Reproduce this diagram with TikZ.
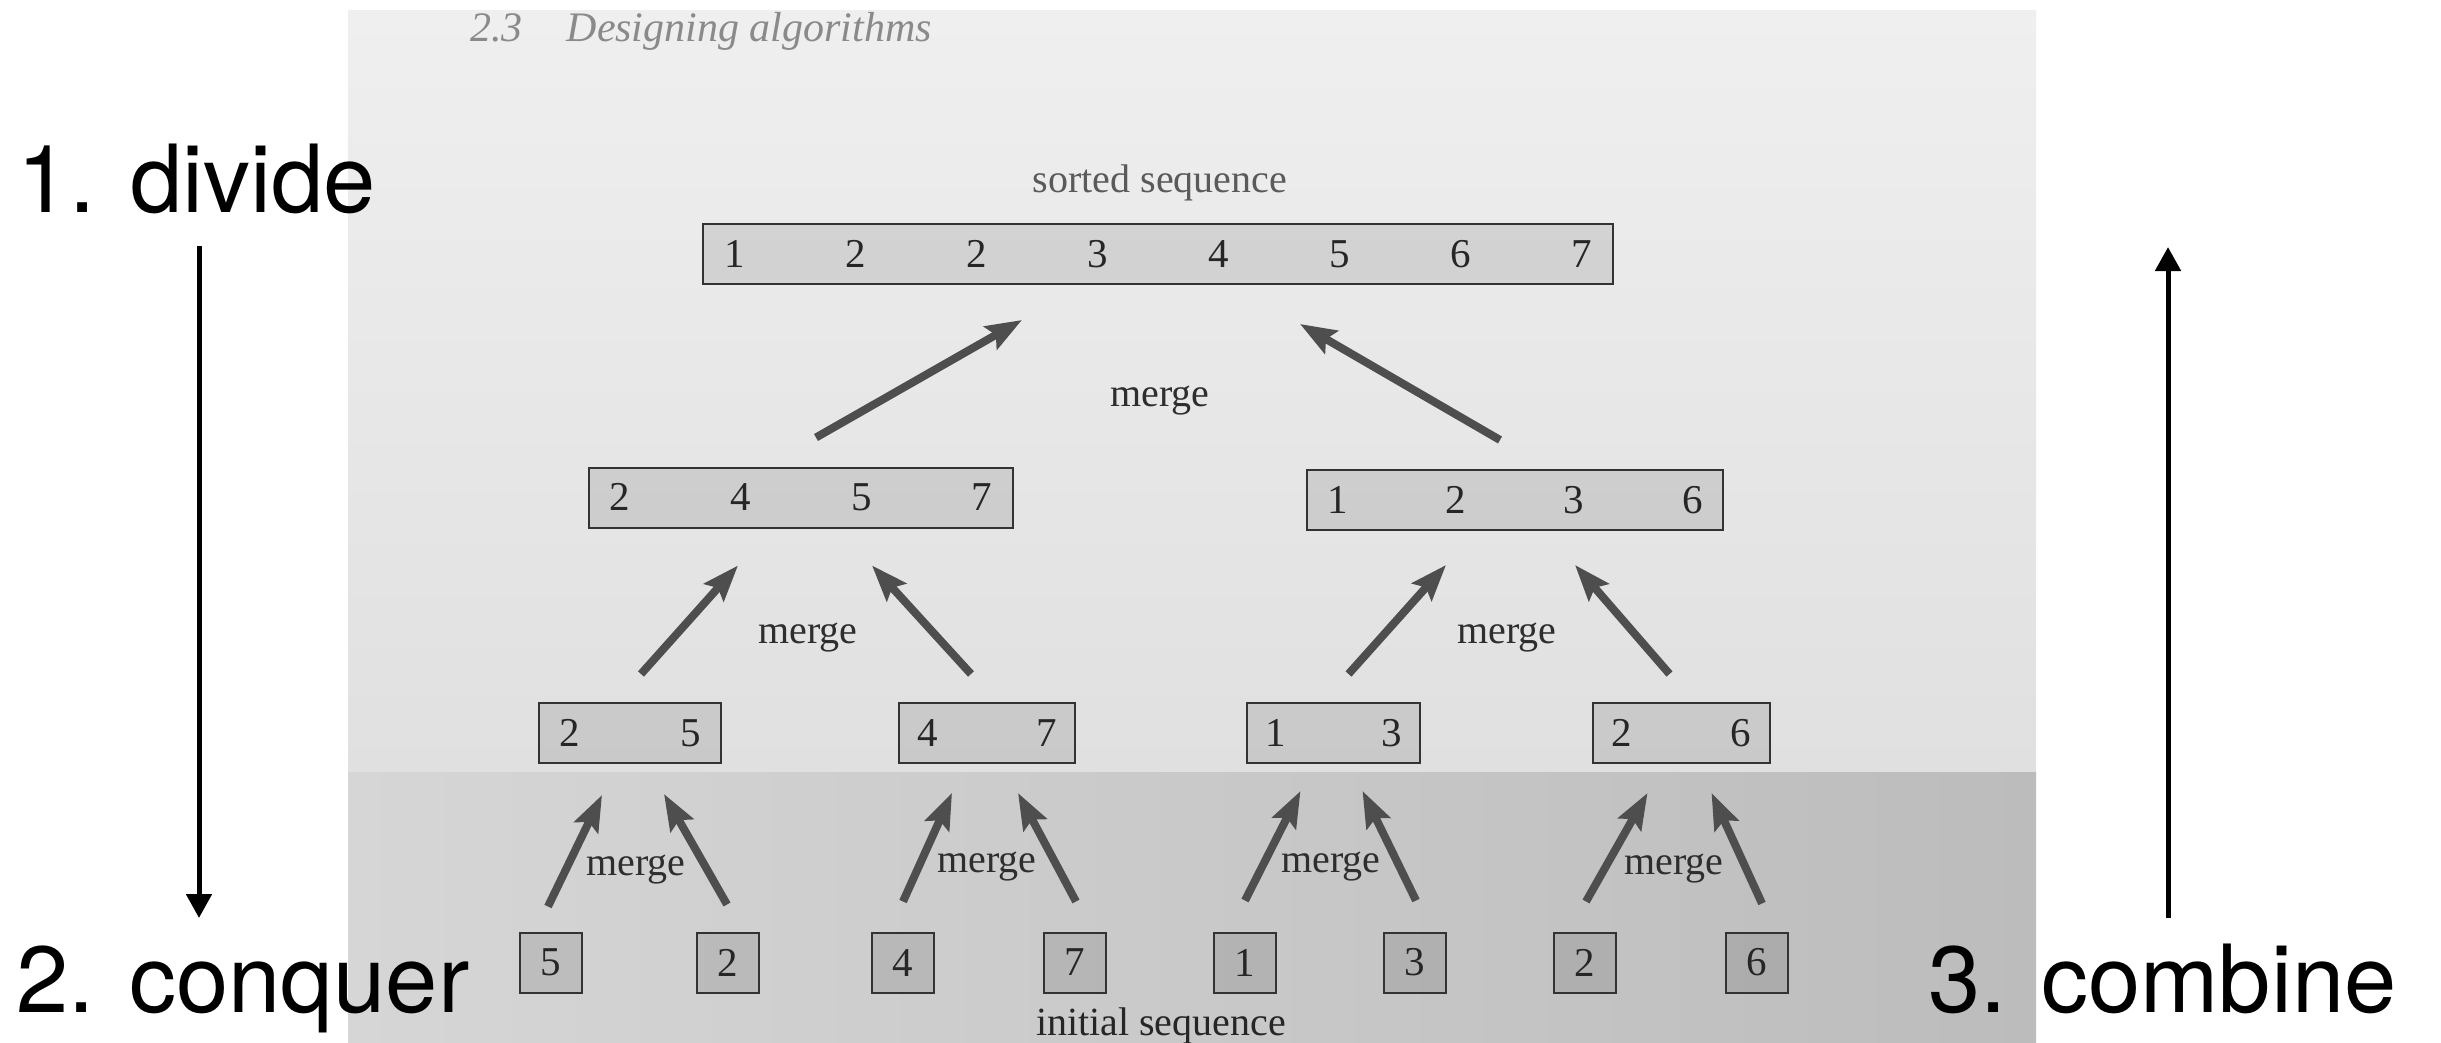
\documentclass[tikz,border=0pt]{standalone}
\usepackage{fontspec}
\setmainfont{Liberation Serif}
\newfontfamily\labelfont{TeX Gyre Heros}
\usetikzlibrary{arrows.meta,calc}
\definecolor{photoA}{HTML}{EFEFEF}
\definecolor{photoB}{HTML}{E0E0E0}
\definecolor{photoC}{HTML}{D6D6D6}
\definecolor{photoM}{HTML}{CBCBCB}
\definecolor{photoD}{HTML}{BCBCBC}
\definecolor{boxline}{HTML}{333333}
\definecolor{numcol}{HTML}{262626}
\definecolor{mergecol}{HTML}{2E2E2E}
\definecolor{arrowcol}{HTML}{4E4E4E}
\definecolor{headcol}{HTML}{8A8A8A}
\definecolor{seqcol}{HTML}{5A5A5A}
\begin{document}
\begin{tikzpicture}[x=1pt,y=-1pt,
  seqbox/.style={draw=boxline, line width=2pt, fill=black, fill opacity=0.1, text opacity=1,
    inner sep=0pt, minimum height=60pt, text=numcol, font=\fontsize{41}{43}\selectfont},
  cell/.style={seqbox, minimum width=62pt},
  mlabel/.style={text=mergecol, font=\fontsize{40}{42}\selectfont, inner sep=0pt, anchor=base},
  marrow/.style={draw=arrowcol, line width=8pt, -{Stealth[length=36pt,width=26pt,inset=6pt]}},
  bigarrow/.style={draw=black, line width=5pt, -{Triangle[length=24pt,width=25pt]}},
  biglabel/.style={font=\labelfont\fontsize{94}{100}\selectfont, inner sep=0pt, anchor=base west, text=black}]
\useasboundingbox (0,0) rectangle (2441,1043);
\fill[white] (0,0) rectangle (2441,1043);
% photographed page
\shade[top color=photoA, bottom color=photoB] (348,11) rectangle (2036,772);
\shade[left color=photoC, middle color=photoM, right color=photoD] (348,772) rectangle (2036,1043);

% running head
\node[anchor=base west, inner sep=0pt, text=headcol, font=\fontsize{42}{44}\selectfont\itshape] (head) at (470,42) {2.3\hspace{44pt}Designing algorithms};

% sorted sequence
\node[anchor=base, inner sep=0pt, text=seqcol, font=\fontsize{40}{42}\selectfont] (sorted) at (1160,193) {sorted sequence};
\node[seqbox, minimum width=910pt] (T) at (1158,254) {\hbox to 868pt{1\hfill 2\hfill 2\hfill 3\hfill 4\hfill 5\hfill 6\hfill 7}};

% level 2
\node[seqbox, minimum width=424pt] (L2a) at (801,497.5) {\hbox to 383pt{2\hfill 4\hfill 5\hfill 7}};
\node[seqbox, minimum width=416pt] (L2b) at (1515,500) {\hbox to 375pt{1\hfill 2\hfill 3\hfill 6}};

% level 3
\node[seqbox, minimum width=182pt] (L3a) at (630,733) {\hbox to 142pt{2\hfill 5}};
\node[seqbox, minimum width=176pt] (L3b) at (987,733) {\hbox to 139pt{4\hfill 7}};
\node[seqbox, minimum width=173pt] (L3c) at (1333.5,733) {\hbox to 136pt{1\hfill 3}};
\node[seqbox, minimum width=177pt] (L3d) at (1681.5,733) {\hbox to 140pt{2\hfill 6}};

% level 4 (initial sequence)
\node[cell] (L4a) at (551,962.5) {5};
\node[cell] (L4b) at (728,962.5) {2};
\node[cell] (L4c) at (903,962.5) {4};
\node[cell] (L4d) at (1075,962.5) {7};
\node[cell] (L4e) at (1245,962.5) {1};
\node[cell] (L4f) at (1415,962.5) {3};
\node[cell] (L4g) at (1585,962.5) {2};
\node[cell] (L4h) at (1757,962.5) {6};
\node[anchor=base, inner sep=0pt, text=numcol, font=\fontsize{40}{42}\selectfont] (initial) at (1161,1035) {initial sequence};

% merge labels
\node[mlabel] (m1) at (1160,406) {merge};
\node[mlabel] (m2a) at (808,643) {merge};
\node[mlabel] (m2b) at (1507,643) {merge};
\node[mlabel] (m3a) at (636,875) {merge};
\node[mlabel] (m3b) at (987,872) {merge};
\node[mlabel] (m3c) at (1331,872) {merge};
\node[mlabel] (m3d) at (1674,874) {merge};

% merge arrows
\draw[marrow] ($(L2a.north)+(15,-29)$) -- ($(T.south)+(-136,35)$);
\draw[marrow] ($(L2b.north)+(-15,-29)$) -- ($(T.south)+(142,39)$);

\draw[marrow] ($(L3a.north)+(11,-28)$) -- ($(L2a.south)+(-63,37)$);
\draw[marrow] ($(L3b.north)+(-16,-28)$) -- ($(L2a.south)+(71,37)$);
\draw[marrow] ($(L3c.north)+(15,-28)$) -- ($(L2b.south)+(-69,34)$);
\draw[marrow] ($(L3d.north)+(-12,-28)$) -- ($(L2b.south)+(60,34)$);

\draw[marrow] ($(L4a.north)+(-3,-25)$) -- ($(L3a.south)+(-28,31)$);
\draw[marrow] ($(L4b.north)+(-1,-27)$) -- ($(L3a.south)+(34,30)$);
\draw[marrow] ($(L4c.north)+(0,-30)$) -- ($(L3b.south)+(-35,29)$);
\draw[marrow] ($(L4d.north)+(1,-30)$) -- ($(L3b.south)+(31,29)$);
\draw[marrow] ($(L4e.north)+(0,-31)$) -- ($(L3c.south)+(-33,27)$);
\draw[marrow] ($(L4f.north)+(1,-31)$) -- ($(L3c.south)+(29,27)$);
\draw[marrow] ($(L4g.north)+(1,-30)$) -- ($(L3d.south)+(-34,29)$);
\draw[marrow] ($(L4h.north)+(5,-28)$) -- ($(L3d.south)+(30,29)$);

% overlay labels
\node[biglabel] (divide) at (17,212) {1. divide};
\node[biglabel] (conquer) at (16,1012) {2. conquer};
\node[biglabel] (combine) at (1928,1012) {3. combine};
\coordinate (dtop) at (199,246);
\coordinate (dbot) at (199,918);
\coordinate (ctop) at (2168,247);
\coordinate (cbot) at (2168,918);
\draw[bigarrow] (dtop) -- (dbot);
\draw[bigarrow] (cbot) -- (ctop);
\end{tikzpicture}
\end{document}
